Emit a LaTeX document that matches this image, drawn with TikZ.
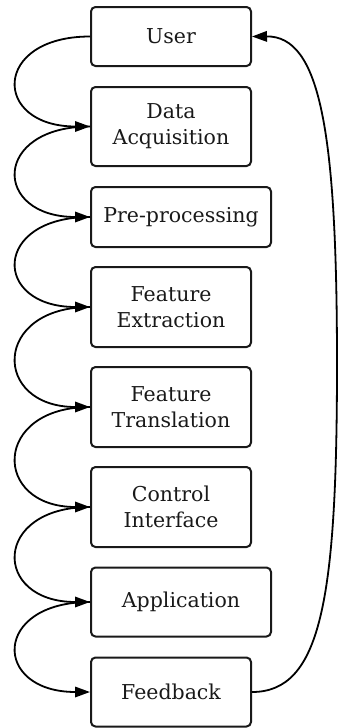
\documentclass[tikz,border=0pt]{standalone}
\usepackage{fontspec}
\setmainfont{DejaVu Serif}
\usetikzlibrary{arrows.meta}

\tikzset{
  stage/.style={draw=black!90, line width=2pt, rounded corners=4.5pt,
    inner sep=0pt, align=center, text=black!90,
    font=\fontsize{20.5}{26}\selectfont},
  flow/.style={line width=1.8pt, -{Triangle[length=15pt,width=10.5pt]}},
}

\begin{document}
\begin{tikzpicture}[x=1pt, y=-1pt]
  \useasboundingbox (0,0) rectangle (339,728);

  % pipeline stages, top to bottom
  \node[stage, minimum width=160pt, minimum height=59pt] (user)  at (171,36.5) {User};
  \node[stage, minimum width=160pt, minimum height=79pt] (acq)   at (171,126.5) {Data\\Acquisition};
  \node[stage, minimum width=180pt, minimum height=60pt] (pre)   at (181,217) {Pre-processing};
  \node[stage, minimum width=160pt, minimum height=80pt] (fext)  at (171,307) {Feature\\Extraction};
  \node[stage, minimum width=160pt, minimum height=80pt] (ftr)   at (171,407) {Feature\\Translation};
  \node[stage, minimum width=160pt, minimum height=80pt] (ctrl)  at (171,507) {Control\\Interface};
  \node[stage, minimum width=180pt, minimum height=69pt] (app)   at (181,602) {Application};
  \node[stage, minimum width=160pt, minimum height=69pt] (fb)    at (171,692) {Feedback};

  % loops on the left joining consecutive stages
  \foreach \a/\b in {user/acq, acq/pre, pre/fext, fext/ftr, ftr/ctrl, ctrl/app, app/fb}
    \draw[flow] (\a.west) .. controls +(-98,0) and +(-98,0) .. (\b.west);

  % feedback path back to the user on the right
  \coordinate (mid) at (337,364);
  \draw[line width=1.8pt] (fb.east) .. controls +(69,0) and (337,600) .. (mid);
  \draw[flow] (mid) .. controls (337,130) and (320,36) .. (user.east);
\end{tikzpicture}
\end{document}
